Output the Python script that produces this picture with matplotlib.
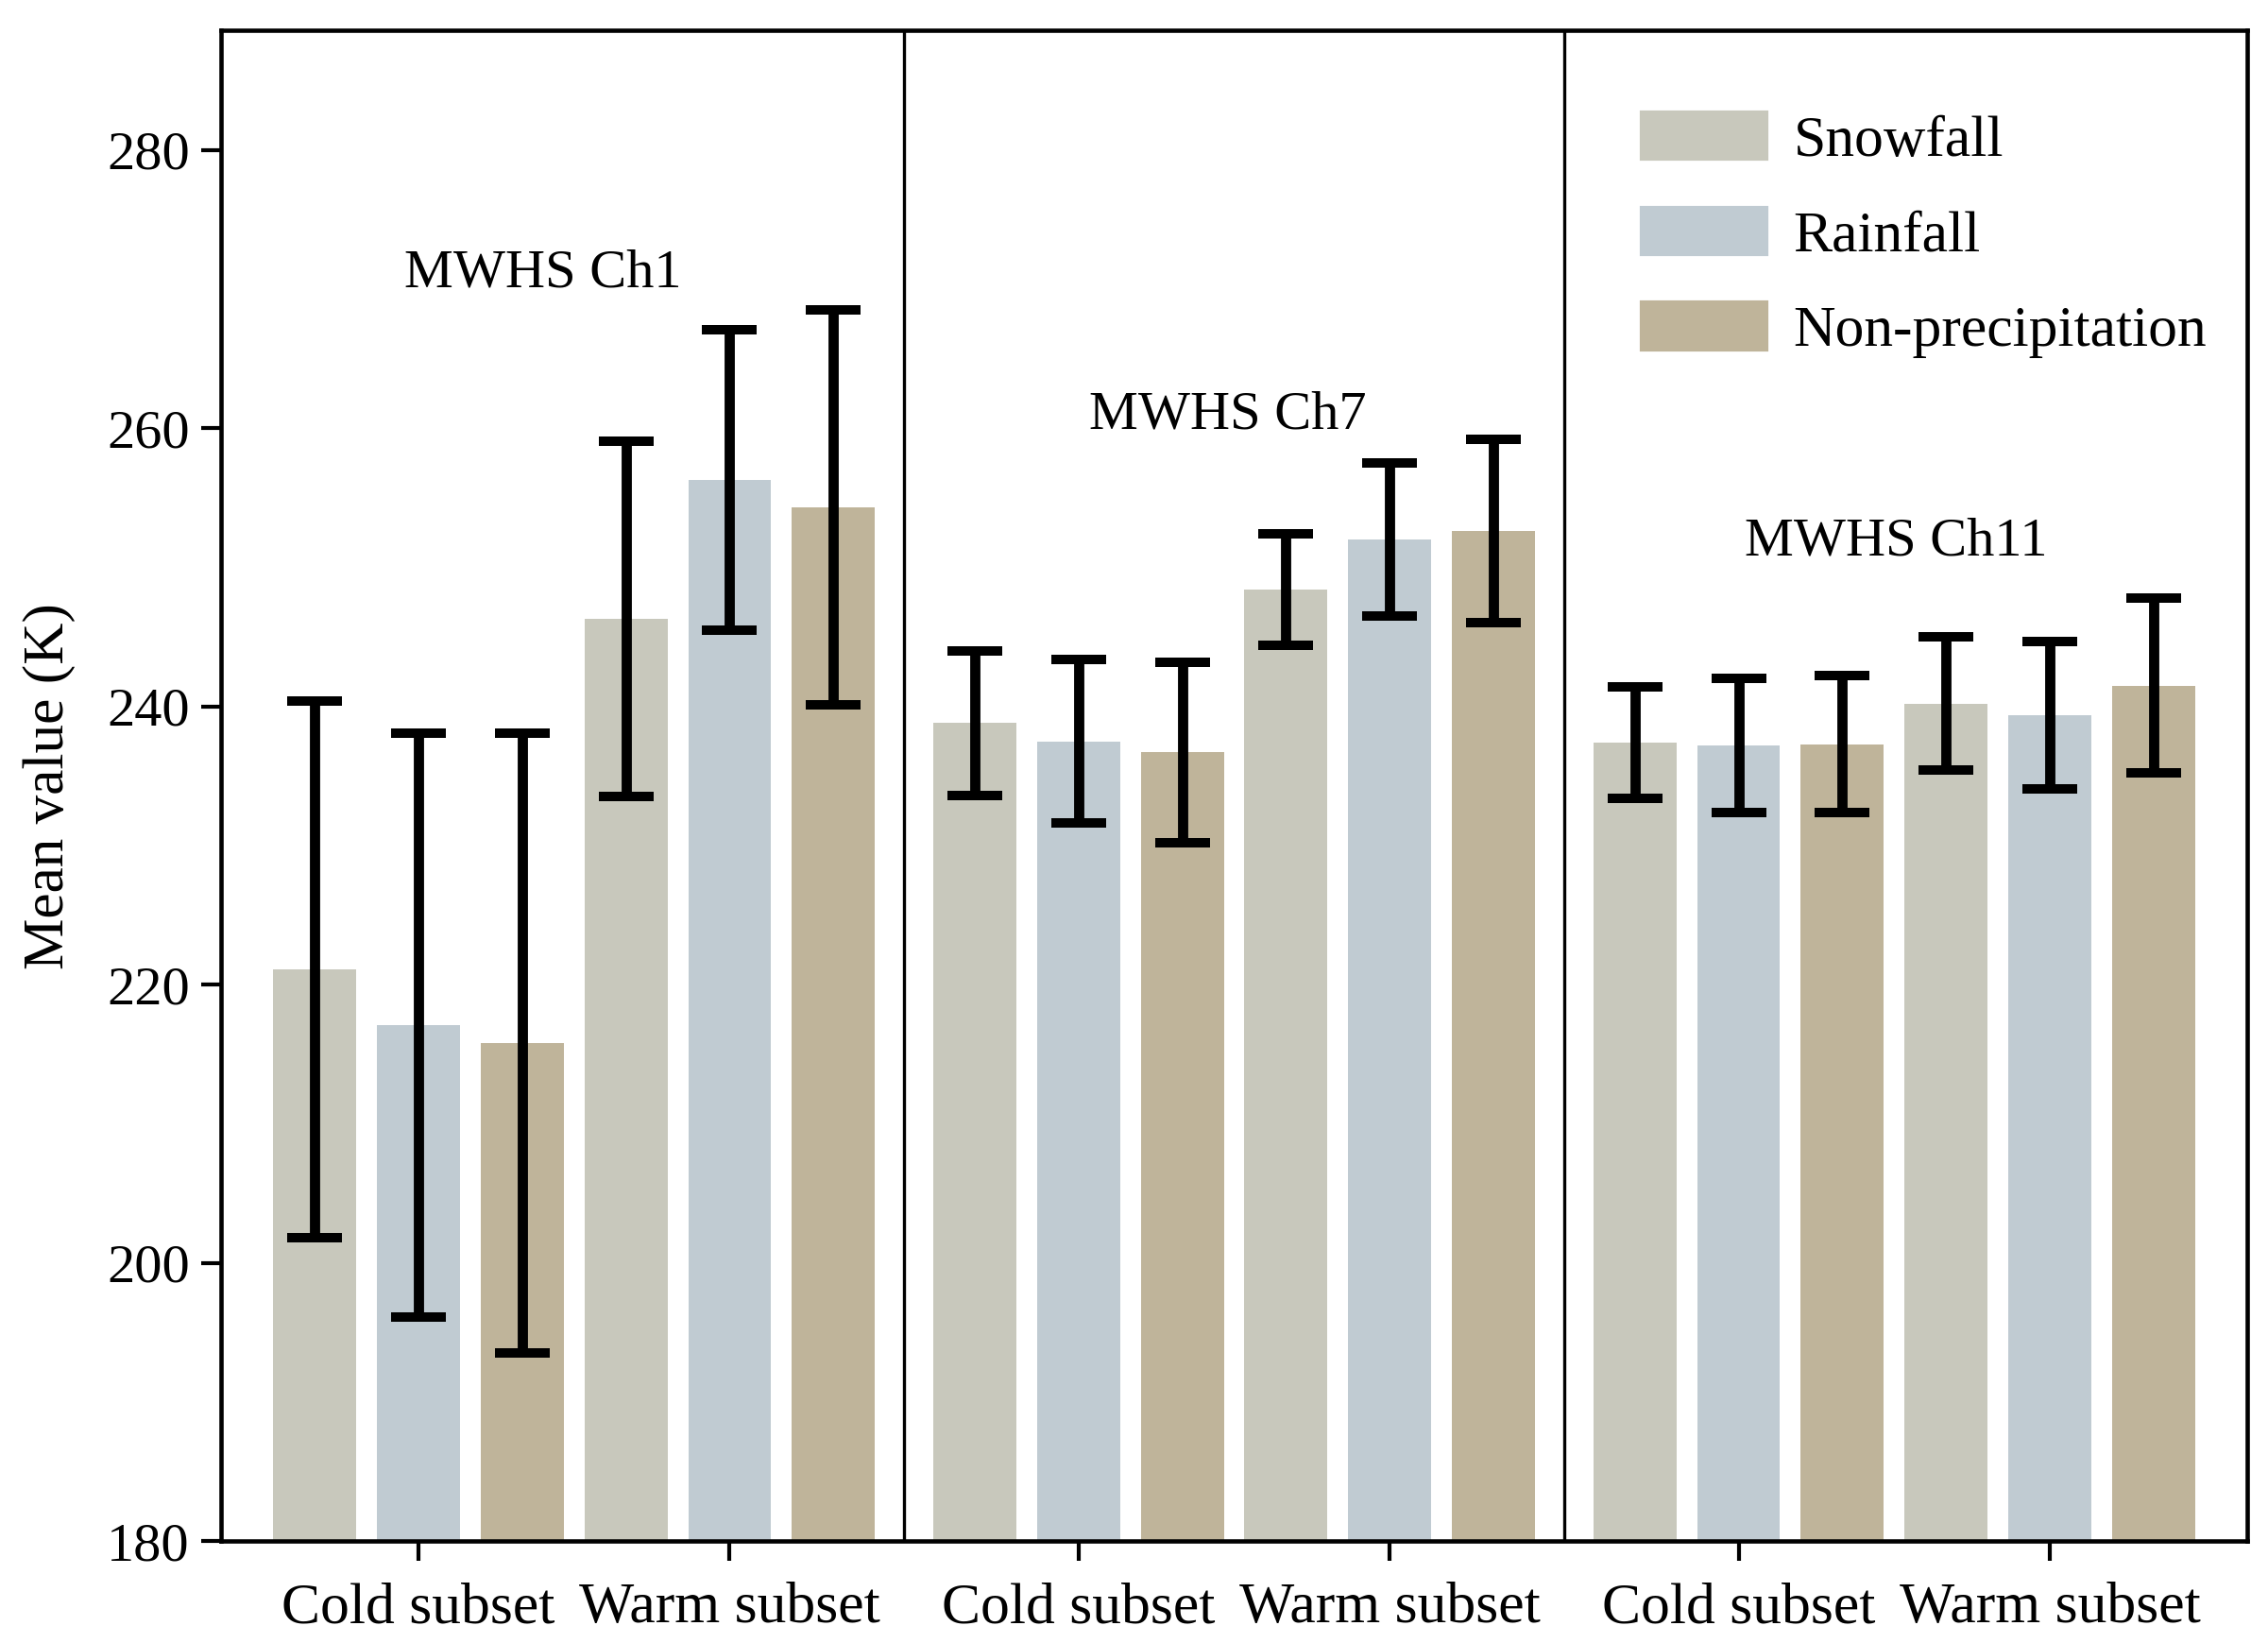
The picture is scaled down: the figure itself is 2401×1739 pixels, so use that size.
import matplotlib
matplotlib.use("Agg")
import matplotlib.pyplot as plt
import numpy as np

plt.rcParams["font.family"] = ["Liberation Serif", "DejaVu Serif"]

CHANNELS = ["MWHS Ch1", "MWHS Ch7", "MWHS Ch11"]
SUBSETS = ["Cold subset", "Warm subset"]
SERIES = ["Snowfall", "Rainfall", "Non-precipitation"]
COLORS = ["#C8C8BC", "#C0CBD2", "#BFB49A"]

# mean values per channel, order: cold (snow, rain, non), warm (snow, rain, non)
MEAN_CH1 = [221.1, 217.1, 215.8, 246.3, 256.3, 254.3]
MEAN_CH7 = [238.8, 237.5, 236.7, 248.4, 252.0, 252.6]
MEAN_CH11 = [237.4, 237.2, 237.3, 240.2, 239.4, 241.5]

STD_CH1 = [19.3, 21.0, 22.3, 12.8, 10.8, 14.2]
STD_CH7 = [5.2, 5.9, 6.5, 4.0, 5.5, 6.6]
STD_CH11 = [4.0, 4.8, 4.9, 4.8, 5.3, 6.3]

LABEL_POS = [(2.2, 270.2), (8.8, 260.0), (15.24, 250.9)]

means = [MEAN_CH1, MEAN_CH7, MEAN_CH11]
stds = [STD_CH1, STD_CH7, STD_CH11]

fig = plt.figure(figsize=(2401 / 300, 1739 / 300), dpi=300)
ax = fig.add_axes([0.0975, 0.0621, 0.8933, 0.9193])

group_step = 6.36
tick_pos = []
tick_lab = []
for g in range(3):
    x0 = g * group_step
    x = x0 + np.arange(6)
    cols = [COLORS[i % 3] for i in range(6)]
    ax.bar(x, means[g], width=0.8, color=cols, zorder=1)
    ax.errorbar(x, means[g], yerr=stds[g], fmt="none", ecolor="black",
                elinewidth=2.6, capsize=7, capthick=2.4, zorder=3)
    tick_pos += [x0 + 1, x0 + 4]
    tick_lab += SUBSETS
    ax.text(LABEL_POS[g][0], LABEL_POS[g][1], CHANNELS[g], ha="center",
            va="baseline", fontsize=14)
    if g < 2:
        ax.axvline(x0 + 5 + (group_step - 5) / 2, color="black", lw=0.8, zorder=2)

handles = [plt.Rectangle((0, 0), 1, 1, color=c) for c in COLORS]
ax.legend(handles, SERIES, loc="upper left", bbox_to_anchor=(0.701, 0.946),
          frameon=False, fontsize=14.8, handlelength=2.14, handleheight=0.85,
          handletextpad=0.47, labelspacing=0.68, borderaxespad=0, borderpad=0)

ax.set_xlim(-0.9, 2 * group_step + 5 + 0.9)
ax.set_ylim(180, 288.6)
ax.set_yticks(np.arange(180, 281, 20))
ax.set_xticks(tick_pos, tick_lab)
ax.tick_params(axis="x", labelsize=14.8, length=5, width=1.0, pad=5.5)
ax.tick_params(axis="y", labelsize=14, length=5, width=1.0, pad=3)
ax.set_ylabel("Mean value (K)", fontsize=14.7, labelpad=8)
for s in ax.spines.values():
    s.set_linewidth(1.1)

fig.savefig("out.png", dpi=300)
